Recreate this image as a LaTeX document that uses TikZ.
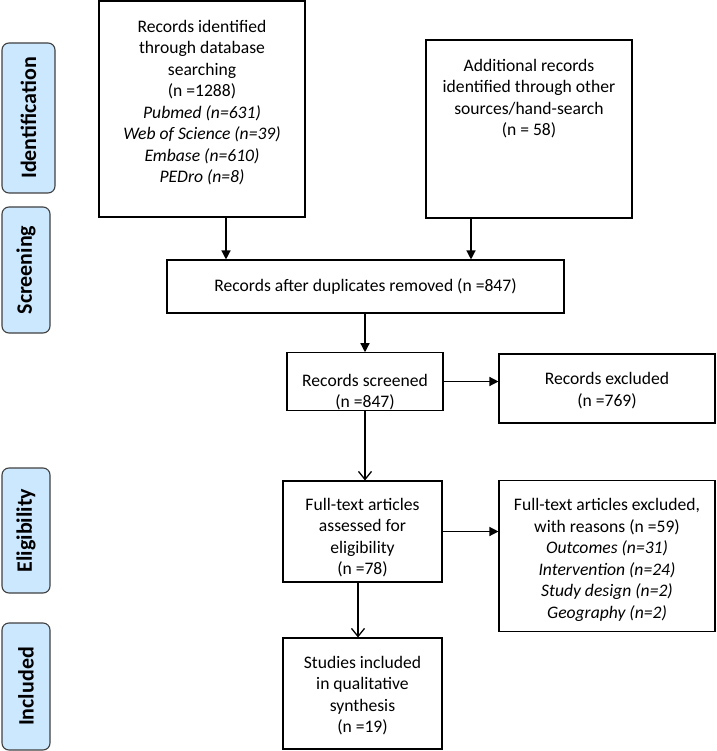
\documentclass[tikz,border=0pt]{standalone}
\usepackage{fontspec}
\setmainfont{Carlito}
\usetikzlibrary{arrows.meta}
\definecolor{stagefill}{HTML}{CCE8FF}
\begin{document}
\begin{tikzpicture}[x=1pt,y=-1pt,
    box/.style={draw, line width=1.1pt, align=center, inner sep=0pt, font=\fontsize{17.6}{21.5}\selectfont},
    stage/.style={draw=black!75, line width=1.1pt, fill=stagefill, rounded corners=7pt, inner sep=0pt, font=\fontsize{22}{24}\selectfont\bfseries, rotate=90},
    arr/.style={line width=1.3pt, -{Triangle[length=9pt,width=9pt]}},
    openarr/.style={line width=1.3pt, -{Straight Barb[length=8pt,width=13pt]}}]
  \useasboundingbox (0,0) rectangle (716,751);

  % stages on the left
  \node[stage, minimum width=150pt, minimum height=53pt] (identification) at (28.5,118) {Identification};
  \node[stage, minimum width=126pt, minimum height=48pt] (screening) at (26,270) {Screening};
  \node[stage, minimum width=125pt, minimum height=48pt] (eligibility) at (26,530.5) {Eligibility};
  \node[stage, minimum width=127pt, minimum height=48pt] (included) at (26,686.5) {Included};

  % boxes
  \node[box] (ident) at (202,109) {\parbox[c][216pt][t]{206pt}{\centering\vspace*{19pt}
    Records identified\\ through database\\ searching\\ (n =1288)\\
    \textit{Pubmed (n=631)}\\ \textit{Web of Science (n=39)}\\ \textit{Embase (n=610)}\\ \textit{PEDro (n=8)}}};
  \node[box] (addl) at (529,129) {\parbox[c][178pt][t]{206pt}{\centering\vspace*{19pt}
    Additional records\\ identified through other\\ sources/hand-search\\ (n = 58)}};
  \node[box, minimum width=397pt, minimum height=53pt] (dup) at (365.5,286.5) {Records after duplicates removed (n =847)};
  \node[box] (screened) at (365,381.5) {\parbox[c][55pt][b]{156pt}{\centering Records screened\\ (n =847)}};
  \node[box, minimum width=216pt, minimum height=69pt] (excluded) at (607,388.5) {\parbox[c][69pt][c]{216pt}{\centering\vspace*{4pt}Records excluded\\ (n =769)}};
  \node[box] (fulltext) at (362.5,531.5) {\parbox[c][101pt][c]{159pt}{\centering\vspace*{12pt}
    Full-text articles\\ assessed for\\ eligibility\\ (n =78)}};
  \node[box] (ftexcl) at (607,556) {\parbox[c][151pt][c]{216pt}{\centering\vspace*{8pt}
    Full-text articles excluded,\\ with reasons (n =59)\\
    \textit{Outcomes (n=31)}\\ \textit{Intervention (n=24)}\\ \textit{Study design (n=2)}\\ \textit{Geography (n=2)}}};
  \node[box] (studies) at (362.5,693.5) {\parbox[c][111pt][c]{159pt}{\centering\vspace*{4pt}
    Studies included\\ in qualitative\\ synthesis\\ (n =19)}};

  % arrows
  \draw[arr] ([xshift=24pt]ident.south) -- ([xshift=24pt]ident.south |- dup.north);
  \draw[arr] ([xshift=-58pt]addl.south) -- ([xshift=-58pt]addl.south |- dup.north);
  \draw[arr] (screened.north |- dup.south) -- (screened.north);
  \draw[arr] (screened.east) -- (screened.east -| excluded.west);
  \draw[openarr] (screened.south) -- (screened.south |- fulltext.north);
  \draw[arr] (fulltext.east) -- (fulltext.east -| ftexcl.west);
  \draw[openarr] ([xshift=-4.5pt]fulltext.south) -- ([xshift=-4.5pt]fulltext.south |- studies.north);
\end{tikzpicture}
\end{document}
